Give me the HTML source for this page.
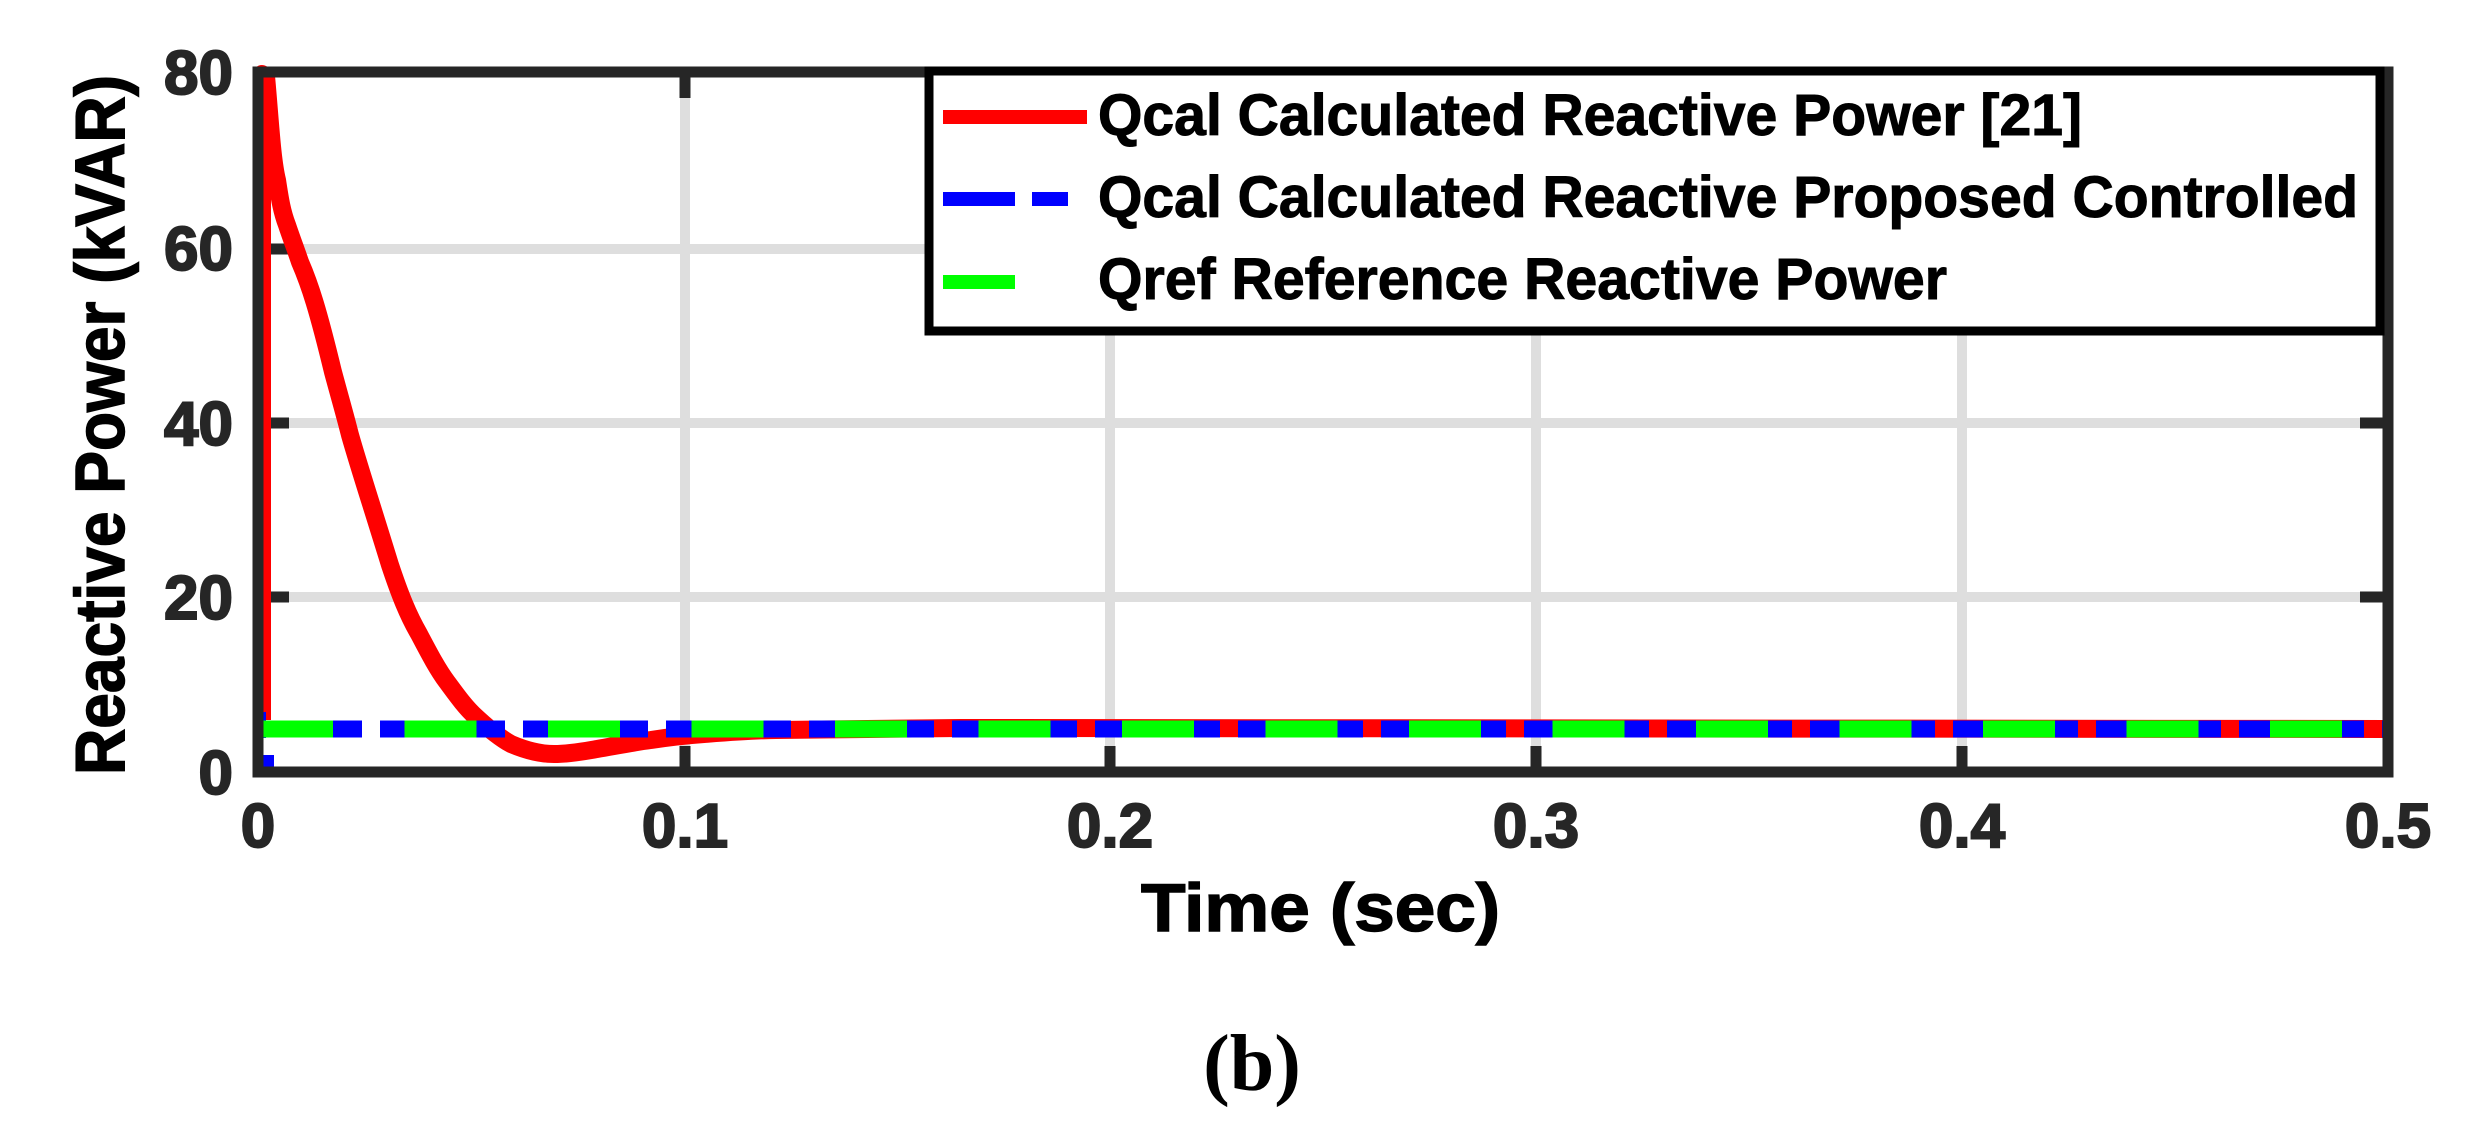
<!DOCTYPE html>
<html><head><meta charset="utf-8"><style>html,body{margin:0;padding:0;background:#fff}svg{display:block}</style></head>
<body>
<svg width="2475" height="1135" viewBox="0 0 2475 1135" xmlns="http://www.w3.org/2000/svg">
<rect width="2475" height="1135" fill="#fff"/>
<!-- grid -->
<g stroke="#dedede" stroke-width="10">
<line x1="685" y1="72" x2="685" y2="772"/>
<line x1="1110" y1="72" x2="1110" y2="772"/>
<line x1="1536" y1="72" x2="1536" y2="772"/>
<line x1="1962" y1="72" x2="1962" y2="772"/>
<line x1="258" y1="249" x2="2388" y2="249"/>
<line x1="258" y1="423" x2="2388" y2="423"/>
<line x1="258" y1="597" x2="2388" y2="597"/>
</g>
<!-- ticks -->
<g stroke="#262626" stroke-width="11">
<line x1="685" y1="72" x2="685" y2="98"/><line x1="1110" y1="72" x2="1110" y2="98"/><line x1="1536" y1="72" x2="1536" y2="98"/><line x1="1962" y1="72" x2="1962" y2="98"/>
<line x1="685" y1="772" x2="685" y2="746"/><line x1="1110" y1="772" x2="1110" y2="746"/><line x1="1536" y1="772" x2="1536" y2="746"/><line x1="1962" y1="772" x2="1962" y2="746"/>
<line x1="258" y1="249" x2="289" y2="249"/><line x1="258" y1="423" x2="289" y2="423"/><line x1="258" y1="597" x2="289" y2="597"/>
<line x1="2388" y1="249" x2="2360" y2="249"/><line x1="2388" y1="423" x2="2360" y2="423"/><line x1="2388" y1="597" x2="2360" y2="597"/>
</g>
<!-- series -->
<path d="M262,725 L262,74 L266,76 C270,120 272,160 277,180 C280,200 282,212 287,225 C292,240 296,250 300,262 C310,285 318,310 333,372 C340,398 345,415 350,435 C360,470 370,500 390,565 C400,595 408,615 419,634 C430,655 438,670 447,682 C458,697 466,708 476,717 C490,730 500,738 511,744 C525,750 540,754 554,754 C570,754 585,751 597,749 C620,745 635,742 651,740 C670,737 690,735 704,734 C730,732 755,730 776,730 L960,728 L2388,729" fill="none" stroke="#ff0000" stroke-width="18" stroke-linejoin="round"/>
<line x1="261" y1="729" x2="2388" y2="729" stroke="#ff0000" stroke-width="17" stroke-dasharray="18 53.5" stroke-dashoffset="-71"/>
<rect x="252" y="720" width="24" height="8" fill="#fff"/>
<line x1="261" y1="729" x2="2388" y2="729" stroke="#0000ff" stroke-width="17" stroke-dasharray="53.5 18" stroke-dashoffset="24"/>
<path d="M256,712 L266,712 L266,738 L256,738 Z M253,755 L274,755 L274,772 L253,772 Z" fill="#0000ff"/>
<line x1="261" y1="729" x2="2388" y2="729" stroke="#00ff00" stroke-width="17" stroke-dasharray="72 71.5"/>
<!-- axes box -->
<rect x="258" y="72" width="2130" height="700" fill="none" stroke="#262626" stroke-width="11"/>
<!-- tick labels -->
<g font-family="Liberation Sans, sans-serif" font-weight="bold" font-size="62" fill="#262626" stroke="#262626" stroke-width="2">
<text x="233" y="94" text-anchor="end">80</text>
<text x="233" y="270" text-anchor="end">60</text>
<text x="233" y="445" text-anchor="end">40</text>
<text x="233" y="619" text-anchor="end">20</text>
<text x="233" y="794" text-anchor="end">0</text>
<text x="258" y="847" text-anchor="middle">0</text>
<text x="685" y="847" text-anchor="middle">0.1</text>
<text x="1110" y="847" text-anchor="middle">0.2</text>
<text x="1536" y="847" text-anchor="middle">0.3</text>
<text x="1962" y="847" text-anchor="middle">0.4</text>
<text x="2388" y="847" text-anchor="middle">0.5</text>
</g>
<text x="1141" y="931" font-family="Liberation Sans, sans-serif" font-weight="bold" font-size="68" fill="#000" stroke="#000" stroke-width="1.5" textLength="359" lengthAdjust="spacingAndGlyphs">Time (sec)</text>
<text transform="translate(124,775) rotate(-90)" font-family="Liberation Sans, sans-serif" font-weight="bold" font-size="70" fill="#000" stroke="#000" stroke-width="1.5" textLength="700" lengthAdjust="spacingAndGlyphs">Reactive Power (kVAR)</text>
<text x="1252" y="1090" text-anchor="middle" font-family="Liberation Serif, serif" font-weight="bold" font-size="80" fill="#000">(b)</text>
<!-- legend -->
<rect x="929" y="71" width="1451" height="260" fill="#fff" stroke="#000" stroke-width="9"/>
<line x1="943" y1="117" x2="1087" y2="117" stroke="#ff0000" stroke-width="14"/>
<line x1="943" y1="199" x2="1015" y2="199" stroke="#0000ff" stroke-width="14"/>
<line x1="1032" y1="199" x2="1068" y2="199" stroke="#0000ff" stroke-width="14"/>
<line x1="943" y1="282" x2="1015" y2="282" stroke="#00ff00" stroke-width="14"/>
<g font-family="Liberation Sans, sans-serif" font-weight="bold" font-size="58" fill="#000" stroke="#000" stroke-width="1">
<text x="1098" y="135" textLength="984" lengthAdjust="spacingAndGlyphs">Qcal Calculated Reactive Power [21]</text>
<text x="1098" y="217" textLength="1260" lengthAdjust="spacingAndGlyphs">Qcal Calculated Reactive Proposed Controlled</text>
<text x="1098" y="299" textLength="849" lengthAdjust="spacingAndGlyphs">Qref Reference Reactive Power</text>
</g>
</svg>
</body></html>
